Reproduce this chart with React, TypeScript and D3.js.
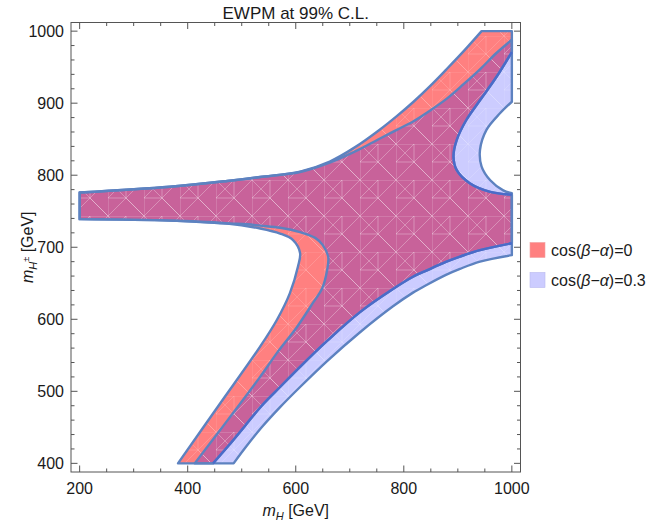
import React from 'react';
import * as d3 from 'd3';

// axis ticks (GeV)
const xMajor = [200, 400, 600, 800, 1000];
const xMinor = d3.range(200, 1001, 50);
const yMajor = [400, 500, 600, 700, 800, 900, 1000];
const yMinor = d3.range(400, 1001, 20);

const legendLabels = ['0', '0.3'];

// boundary of the cos(beta-alpha)=0 region, [mH, mH±] pieces
const redBandTop = [[200, 776], [367, 784], [473, 792], [534, 797.5], [608, 805], [663, 819], [710, 839], [756, 863.5], [787, 882], [818, 902], [849, 924], [879, 947], [910, 971.5], [944, 1000]];
const redTopEdge = [[944, 1000], [1000, 1000], [1000, 971]];
const redRightCurve = [[1000, 971], [972, 937], [941, 904], [916, 877], [898, 849], [892, 826], [898, 807], [922, 789], [960, 777], [1000, 773]];
const redRightEdge = [[1000, 773], [1000, 705.5]];
const redLowerLine = [[1000, 705.5], [941, 696], [904, 687], [879, 680], [843, 668], [817, 659], [780, 642], [719, 610], [658, 570], [608, 534], [571, 506], [537, 480], [506, 452], [475, 424], [447, 400]];
const redBottom = [[447, 400], [382, 400]];
const redHoleLine = [[382, 400], [458, 481], [534, 562], [565, 599], [589, 636], [604, 673], [608, 692], [595, 710], [571, 719], [534, 726], [473, 733], [367, 737], [200, 739]];
const redLeftEdge = [[200, 739], [200, 776]];

// boundary of the cos(beta-alpha)=0.3 region
const blueBandTop = [[200, 776], [367, 784], [473, 792], [534, 797.5], [608, 804.5], [663, 817.5], [710, 833], [756, 851], [787, 863], [818, 875], [849, 890], [879, 906], [910, 926], [941, 947], [972, 970], [1000, 988]];
const blueRightEdgeTop = [[1000, 988], [1000, 902]];
const blueRightCurve = [[1000, 902], [978, 886], [953, 863], [941, 835], [944, 812], [960, 793], [984, 779], [1000, 775]];
const blueRightEdge = [[1000, 775], [1000, 689]];
const blueLowerLine = [[1000, 689], [941, 680], [904, 670], [879, 662], [843, 648], [817, 637], [780, 618], [719, 582], [658, 542], [608, 506], [571, 478], [537, 450], [509, 424], [485, 400]];
const blueBottom = [[485, 400], [413, 400]];
const blueHoleLine = [[413, 400], [474, 460], [534, 520], [565, 553], [602, 589], [632, 623], [649, 643], [658, 668], [660, 687], [650, 703], [636, 713], [608, 721], [571, 727], [534, 730], [510, 732], [473, 733], [367, 737], [200, 739]];
const blueLeftEdge = [[200, 739], [200, 776]];

const W = 662;
const H = 526;
const FONT = '"Liberation Sans", Arial, sans-serif';

export default function App() {
  const x = d3.scaleLinear().domain([184, 1016]).range([71, 520.5]);
  const y = d3.scaleLinear().domain([388, 1012]).range([472, 22.5]);

  const piecePath = (pts, curved) =>
    d3.line()
      .x(d => x(d[0]))
      .y(d => y(d[1]))
      .curve(curved ? d3.curveCatmullRom.alpha(0.5) : d3.curveLinear)(pts);

  const regionPath = pieces =>
    pieces.map((p, i) => {
      const s = piecePath(p[0], p[1]);
      return i === 0 ? s : 'L' + s.slice(1);
    }).join('') + 'Z';

  const redD = regionPath([
    [redBandTop, true], [redTopEdge, false], [redRightCurve, true], [redRightEdge, false],
    [redLowerLine, true], [redBottom, false], [redHoleLine, true], [redLeftEdge, false],
  ]);
  const blueD = regionPath([
    [blueBandTop, true], [blueRightEdgeTop, false], [blueRightCurve, true], [blueRightEdge, false],
    [blueLowerLine, true], [blueBottom, false], [blueHoleLine, true], [blueLeftEdge, false],
  ]);

  const [x0, x1] = x.range();
  const [y0, y1] = y.range();
  const stroke = '#5d82c0';

  return (
    <svg width={W} height={H} style={{ position: 'absolute', left: 0, top: 0, fontFamily: FONT }}>
      <defs>
        <clipPath id="blueClip"><path d={blueD} /></clipPath>
        <clipPath id="plotClip"><rect x={x0} y={y1} width={x1 - x0} height={y0 - y1} /></clipPath>
        <pattern id="mesh" patternUnits="userSpaceOnUse" width={36} height={36}>
          <path
            d="M0 0H36M0 0V36M0 0L36 36M36 0L0 36M18 0V18M0 18H18M0 18L18 0M18 18L36 36"
            stroke="#fff" strokeOpacity={0.2} strokeWidth={0.8} fill="none"
          />
        </pattern>
      </defs>

      <g clipPath="url(#plotClip)">
        <path d={blueD} fill="#ccccff" />
        <path d={redD} fill="#ff8080" />
        <path d={redD} fill="#c8629a" clipPath="url(#blueClip)" />
        <path d={blueD} fill="url(#mesh)" />
        <path d={redD} fill="url(#mesh)" />
        <path d={blueD} fill="none" stroke={stroke} strokeWidth={2.4} strokeLinejoin="round" />
        <path d={redD} fill="none" stroke={stroke} strokeWidth={2.4} strokeLinejoin="round" />
        <path d={piecePath(redRightCurve, true)} fill="none" stroke="#4a6bc9" strokeWidth={2.4} />
        <path d={piecePath(redLowerLine, true)} fill="none" stroke="#4a6bc9" strokeWidth={2.4} />
      </g>

      {/* frame + ticks */}
      <rect x={x0} y={y1} width={x1 - x0} height={y0 - y1} fill="none" stroke="#555" strokeWidth={1} />
      {xMinor.map(v => {
        const len = xMajor.includes(v) ? 6.5 : 3.5;
        return (
          <g key={'xt' + v} stroke="#555" strokeWidth={1}>
            <line x1={x(v)} x2={x(v)} y1={y0} y2={y0 - len} />
            <line x1={x(v)} x2={x(v)} y1={y1} y2={y1 + len} />
          </g>
        );
      })}
      {yMinor.map(v => {
        const len = yMajor.includes(v) ? 6.5 : 3.5;
        return (
          <g key={'yt' + v} stroke="#555" strokeWidth={1}>
            <line x1={x0} x2={x0 + len} y1={y(v)} y2={y(v)} />
            <line x1={x1} x2={x1 - len} y1={y(v)} y2={y(v)} />
          </g>
        );
      })}
      {xMajor.map(v => (
        <text key={'xl' + v} x={x(v)} y={494} textAnchor="middle" fontSize={16} fill="#1a1a1a">{v}</text>
      ))}
      {yMajor.map(v => (
        <text key={'yl' + v} x={64} y={y(v) + 5.8} textAnchor="end" fontSize={16} fill="#1a1a1a">{v}</text>
      ))}

      <text x={(x0 + x1) / 2} y={19} textAnchor="middle" fontSize={17} fill="#1a1a1a">EWPM at 99% C.L.</text>

      <text x={(x0 + x1) / 2} y={516} textAnchor="middle" fontSize={16} fill="#1a1a1a">
        <tspan fontStyle="italic">m</tspan>
        <tspan fontStyle="italic" fontSize={11} dy={4}>H</tspan>
        <tspan dy={-4}> [GeV]</tspan>
      </text>
      <text transform={`translate(33, ${(y0 + y1) / 2}) rotate(-90)`} textAnchor="middle" fontSize={16} fill="#1a1a1a">
        <tspan fontStyle="italic">m</tspan>
        <tspan fontStyle="italic" fontSize={11} dy={4}>H</tspan>
        <tspan fontSize={9} dy={-8}>±</tspan>
        <tspan dy={4}> [GeV]</tspan>
      </text>

      {legendLabels.map((lab, i) => (
        <g key={lab} transform={`translate(530, ${242.5 + i * 30})`}>
          <rect width={15} height={15} fill={i === 0 ? '#ff8080' : '#ccccff'} stroke={i === 0 ? '#f2a0a0' : '#b8b8ee'} strokeWidth={0.6} />
          <text x={21} y={13.5} fontSize={16} fill="#1a1a1a">
            cos(<tspan fontStyle="italic">β</tspan>−<tspan fontStyle="italic">α</tspan>)={lab}
          </text>
        </g>
      ))}
    </svg>
  );
}
